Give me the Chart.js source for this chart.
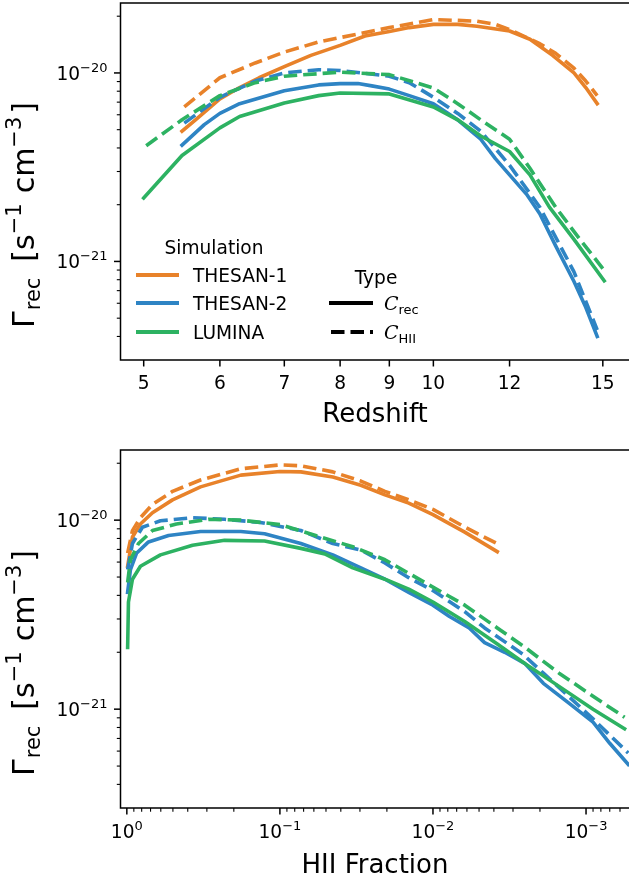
<!DOCTYPE html>
<html><head><meta charset="utf-8">
<script src="https://cdn.jsdelivr.net/npm/chart.js@4.4.0/dist/chart.umd.min.js"></script>
<style>html,body{margin:0;padding:0;background:#fff;overflow:hidden}canvas{display:block}</style>
</head><body>
<canvas id="c1" width="629" height="440"></canvas>
<canvas id="c2" width="629" height="439"></canvas>
<script>
// ---------- data ----------
const simNames = ['THESAN-1', 'THESAN-2', 'LUMINA'];
const simColors = ['#E8822A', '#2E84C4', '#2DB262'];

// Top panel: redshift vs recombination rate
const zT1rec = [5.48, 5.66, 6.0, 6.29, 6.59, 7.0, 7.46, 8.0, 8.49, 9.0, 9.44, 10.0, 10.6, 11.1, 12.0, 12.6, 13.3, 14.0, 14.4, 14.8];
const gT1rec = [4.91e-21, 5.64e-21, 7.29e-21, 8.37e-21, 9.43e-21, 1.08e-20, 1.24e-20, 1.40e-20, 1.57e-20, 1.66e-20, 1.74e-20, 1.81e-20, 1.81e-20, 1.77e-20, 1.67e-20, 1.51e-20, 1.24e-20, 1.0e-20, 8.37e-21, 6.87e-21];
const zT1hii = [5.51, 6.0, 6.53, 7.0, 7.6, 8.0, 9.0, 10.0, 10.6, 11.1, 11.6, 12.0, 12.9, 13.4, 14.0, 14.4, 14.8];
const gT1hii = [6.6e-21, 9.43e-21, 1.13e-20, 1.29e-20, 1.46e-20, 1.54e-20, 1.74e-20, 1.92e-20, 1.90e-20, 1.88e-20, 1.81e-20, 1.70e-20, 1.43e-20, 1.27e-20, 1.06e-20, 9.06e-21, 7.58e-21];
const zT2rec = [5.48, 5.78, 6.0, 6.29, 7.0, 7.6, 8.0, 8.35, 8.63, 9.0, 9.44, 10.0, 10.6, 11.2, 11.6, 12.0, 12.5, 12.9, 13.4, 14.0, 14.4, 14.8];
const gT2rec = [4.14e-21, 5.32e-21, 6.10e-21, 6.87e-21, 8.05e-21, 8.64e-21, 8.78e-21, 8.78e-21, 8.54e-21, 8.21e-21, 7.58e-21, 6.87e-21, 5.64e-21, 4.45e-21, 3.51e-21, 2.88e-21, 2.27e-21, 1.79e-21, 1.21e-21, 7.83e-22, 5.71e-22, 4.0e-22];
const zT2hii = [5.51, 6.0, 6.53, 7.0, 7.6, 8.0, 9.0, 9.44, 10.0, 10.6, 11.2, 12.0, 12.9, 14.0, 14.8];
const gT2hii = [5.42e-21, 7.43e-21, 9.06e-21, 1.0e-20, 1.04e-20, 1.03e-20, 9.61e-21, 8.88e-21, 7.43e-21, 6.10e-21, 4.91e-21, 3.24e-21, 1.94e-21, 8.81e-22, 4.33e-22];
const zLrec = [5.0, 5.48, 6.0, 6.29, 7.0, 7.6, 8.0, 9.0, 10.0, 10.6, 11.2, 12.0, 12.6, 13.2, 14.0, 15.05];
const gLrec = [2.17e-21, 3.65e-21, 5.11e-21, 5.87e-21, 6.93e-21, 7.58e-21, 7.83e-21, 7.74e-21, 6.6e-21, 5.64e-21, 4.63e-21, 3.83e-21, 2.88e-21, 1.94e-21, 1.31e-21, 7.89e-22];
const zLhii = [5.03, 5.48, 6.0, 6.53, 7.0, 8.0, 9.0, 10.0, 10.6, 11.2, 12.0, 12.6, 13.4, 14.2, 15.0];
const gLhii = [4.11e-21, 5.64e-21, 7.58e-21, 8.88e-21, 9.61e-21, 1.01e-20, 9.8e-21, 8.31e-21, 6.87e-21, 5.64e-21, 4.45e-21, 3.12e-21, 1.94e-21, 1.31e-21, 9.17e-22];

// Bottom panel: HII fraction vs recombination rate
const xT1rec = [0.988, 0.919, 0.815, 0.68, 0.503, 0.33, 0.18, 0.1, 0.073, 0.0451, 0.0296, 0.0206, 0.0144, 0.01, 0.0062, 0.0038];
const hT1rec = [5.70e-21, 8.14e-21, 9.54e-21, 1.095e-20, 1.28e-20, 1.50e-20, 1.73e-20, 1.81e-20, 1.80e-20, 1.69e-20, 1.53e-20, 1.36e-20, 1.23e-20, 1.07e-20, 8.64e-21, 6.81e-21];
const xT1hii = [0.988, 0.919, 0.815, 0.68, 0.503, 0.33, 0.18, 0.1, 0.073, 0.0451, 0.0296, 0.0206, 0.0144, 0.01, 0.0062, 0.0038];
const hT1hii = [6.7e-21, 8.8e-21, 1.03e-20, 1.21e-20, 1.42e-20, 1.63e-20, 1.87e-20, 1.96e-20, 1.94e-20, 1.80e-20, 1.61e-20, 1.42e-20, 1.28e-20, 1.14e-20, 9.2e-21, 7.5e-21];
const xT2rec = [0.988, 0.947, 0.865, 0.722, 0.534, 0.33, 0.18, 0.126, 0.073, 0.0451, 0.0296, 0.0206, 0.0144, 0.01, 0.0078, 0.0058, 0.0046, 0.0034, 0.0025, 0.0019, 0.0013, 0.0009, 0.0007, 0.00053];
const hT2rec = [4.15e-21, 5.48e-21, 6.68e-21, 7.67e-21, 8.30e-21, 8.71e-21, 8.71e-21, 8.47e-21, 7.52e-21, 6.55e-21, 5.59e-21, 4.87e-21, 4.15e-21, 3.55e-21, 3.09e-21, 2.69e-21, 2.25e-21, 2.0e-21, 1.74e-21, 1.37e-21, 1.08e-21, 8.54e-22, 6.6e-22, 5.1e-22];
const xT2hii = [0.988, 0.919, 0.791, 0.603, 0.372, 0.23, 0.134, 0.073, 0.0451, 0.0296, 0.0206, 0.0144, 0.01, 0.0062, 0.0046, 0.0026, 0.0019, 0.0013, 0.0009, 0.00053];
const hT2hii = [5.48e-21, 7.52e-21, 9.17e-21, 9.92e-21, 1.03e-20, 1.01e-20, 9.72e-21, 8.81e-21, 7.52e-21, 6.95e-21, 5.93e-21, 4.96e-21, 4.24e-21, 3.28e-21, 2.69e-21, 1.96e-21, 1.55e-21, 1.17e-21, 8.88e-22, 5.86e-22];
const xLrec = [0.988, 0.976, 0.919, 0.815, 0.603, 0.372, 0.23, 0.126, 0.073, 0.0509, 0.0334, 0.0206, 0.0144, 0.01, 0.0062, 0.0038, 0.0025, 0.0015, 0.0009, 0.00056];
const hLrec = [2.12e-21, 3.69e-21, 4.87e-21, 5.70e-21, 6.55e-21, 7.37e-21, 7.82e-21, 7.76e-21, 7.09e-21, 6.63e-21, 5.59e-21, 4.87e-21, 4.32e-21, 3.69e-21, 2.91e-21, 2.21e-21, 1.74e-21, 1.32e-21, 1.0e-21, 7.88e-22];
const xLhii = [0.988, 0.947, 0.839, 0.68, 0.474, 0.292, 0.18, 0.099, 0.0541, 0.0334, 0.0206, 0.0113, 0.0062, 0.0038, 0.0025, 0.0015, 0.0009, 0.00056];
const hLhii = [4.68e-21, 6.17e-21, 7.52e-21, 8.81e-21, 9.54e-21, 1.01e-20, 1.0e-20, 9.46e-21, 8.14e-21, 7.23e-21, 6.17e-21, 4.68e-21, 3.55e-21, 2.69e-21, 2.12e-21, 1.55e-21, 1.17e-21, 9.06e-22];

// axis ticks
const zTicks = [5, 6, 7, 8, 9, 10, 12, 15];
const xFracMajor = [1, 0.1, 0.01, 0.001];
const xFracLabels = ['0', '\u22121', '\u22122', '\u22123'];
const yMajor = [1e-21, 1e-20];
const yLabels = ['\u221221', '\u221220'];

// ---------- helpers ----------
const FONT = 'DejaVu Sans';
const pts = (xs, ys) => xs.map((x, i) => ({x: x, y: ys[i]}));
function mkDs(data, color, dashed, idx) {
  return {data: data, borderColor: color, backgroundColor: color, borderWidth: 3.6,
    borderDash: dashed ? [13.5, 6] : [], pointRadius: 0, fill: false, tension: 0,
    borderCapStyle: dashed ? 'butt' : 'square', borderJoinStyle: 'round', order: 100 - idx};
}
function fnt(p) { return (p.style || '') + ' ' + p.size + 'px ' + (p.family || FONT); }
function richW(ctx, parts) { let w = 0; for (const p of parts) { ctx.font = fnt(p); w += ctx.measureText(p.t).width + (p.gap || 0); } return w; }
function drawRich(ctx, parts, x, y, align) {
  const w = richW(ctx, parts);
  let cx = align === 'center' ? x - w / 2 : align === 'right' ? x - w : x;
  ctx.textAlign = 'left'; ctx.textBaseline = 'alphabetic';
  for (const p of parts) { ctx.font = fnt(p); ctx.fillText(p.t, cx, y + (p.dy || 0)); cx += ctx.measureText(p.t).width + (p.gap || 0); }
}
function minorLog(min, max) {
  const out = [];
  for (let e = -25; e <= 2; e++) for (let k = 2; k <= 9; k++) { const v = k * Math.pow(10, e); if (v >= min && v <= max) out.push(v); }
  return out;
}
const YMIN = 3.4e-22, YMAX = 2.35e-20;

function decorate(chart, cfg) {
  const ctx = chart.ctx, a = chart.chartArea, xs = chart.scales.x, ys = chart.scales.y;
  ctx.save();
  ctx.strokeStyle = '#000'; ctx.fillStyle = '#000';
  // spines
  ctx.lineWidth = 1.5;
  ctx.beginPath();
  ctx.moveTo(a.right + 5, a.top); ctx.lineTo(a.left, a.top); ctx.lineTo(a.left, a.bottom); ctx.lineTo(a.right + 5, a.bottom);
  ctx.stroke();
  // y ticks
  ctx.lineWidth = 1.5;
  for (const v of yMajor) { const p = ys.getPixelForValue(v); ctx.beginPath(); ctx.moveTo(a.left, p); ctx.lineTo(a.left - 6.5, p); ctx.stroke(); }
  ctx.lineWidth = 1.1;
  for (const v of minorLog(YMIN, YMAX)) { const p = ys.getPixelForValue(v); ctx.beginPath(); ctx.moveTo(a.left, p); ctx.lineTo(a.left - 3.7, p); ctx.stroke(); }
  yMajor.forEach((v, i) => {
    const p = ys.getPixelForValue(v);
    drawRich(ctx, [{t: '10', size: 18.6}, {t: yLabels[i], size: 13, dy: -8}], a.left - 13, p + 7, 'right');
  });
  // x ticks
  ctx.lineWidth = 1.5;
  for (const v of cfg.xMajor) { const p = xs.getPixelForValue(v); ctx.beginPath(); ctx.moveTo(p, a.bottom); ctx.lineTo(p, a.bottom + 6.5); ctx.stroke(); }
  ctx.lineWidth = 1.1;
  for (const v of (cfg.xMinor || [])) { const p = xs.getPixelForValue(v); ctx.beginPath(); ctx.moveTo(p, a.bottom); ctx.lineTo(p, a.bottom + 3.7); ctx.stroke(); }
  cfg.xMajor.forEach((v, i) => {
    const p = xs.getPixelForValue(v);
    drawRich(ctx, cfg.xLabel(i), p, cfg.xLabelY, 'center');
  });
  // axis titles
  drawRich(ctx, [{t: cfg.xTitle, size: 26}], 375, cfg.xTitleY, 'center');
  ctx.save();
  ctx.translate(cfg.yTitleX, cfg.yTitleCY); ctx.rotate(-Math.PI / 2);
  drawRich(ctx, [{t: '\u0393', size: 30, gap: 1}, {t: 'rec', size: 21, dy: 6, gap: 16}, {t: '[s', size: 30}, {t: '\u22121', size: 21, dy: -13, gap: 10}, {t: 'cm', size: 30}, {t: '\u22123', size: 21, dy: -13, gap: 3}, {t: ']', size: 30}], 0, 0, 'center');
  ctx.restore();
  if (cfg.legend) drawLegend(ctx);
  ctx.restore();
}
function drawLegend(ctx) {
  ctx.fillStyle = '#000';
  drawRich(ctx, [{t: 'Simulation', size: 18.6}], 214, 254, 'center');
  const ys = [275, 303, 332];
  simNames.forEach((n, i) => {
    ctx.strokeStyle = simColors[i]; ctx.lineWidth = 3.8; ctx.setLineDash([]); ctx.lineCap = 'butt';
    ctx.beginPath(); ctx.moveTo(136, ys[i]); ctx.lineTo(179, ys[i]); ctx.stroke();
    ctx.fillStyle = '#000';
    drawRich(ctx, [{t: n, size: 18.6}], 193, ys[i] + 7, 'left');
  });
  drawRich(ctx, [{t: 'Type', size: 18.6}], 376, 284, 'center');
  ctx.strokeStyle = '#000'; ctx.lineWidth = 3.8;
  ctx.beginPath(); ctx.moveTo(329, 303); ctx.lineTo(373, 303); ctx.stroke();
  ctx.setLineDash([13.5, 6]);
  ctx.beginPath(); ctx.moveTo(331, 332); ctx.lineTo(373, 332); ctx.stroke();
  ctx.setLineDash([]);
  drawRich(ctx, [{t: 'C', size: 19, style: 'italic', family: 'DejaVu Serif'}, {t: 'rec', size: 13, dy: 4}], 384, 310, 'left');
  drawRich(ctx, [{t: 'C', size: 19, style: 'italic', family: 'DejaVu Serif'}, {t: 'HII', size: 13, dy: 4}], 384, 339, 'left');
}
function baseOpts(xOpts, xH, padTop, cfg) {
  return {
    responsive: false, animation: false, devicePixelRatio: 1, events: [],
    layout: {padding: {top: padTop, left: 0, right: 0, bottom: 0}},
    plugins: {legend: {display: false}, tooltip: {enabled: false}, title: {display: false}},
    scales: {
      x: Object.assign({type: 'logarithmic', ticks: {display: false}, grid: {display: false}, border: {display: false},
        afterFit: s => { s.height = xH; }}, xOpts),
      y: {type: 'logarithmic', min: YMIN, max: YMAX, ticks: {display: false}, grid: {display: false}, border: {display: false},
        afterFit: s => { s.width = 120.5; }}
    }
  };
}

// ---------- top chart ----------
const topSets = [
  [pts(zT1rec, gT1rec), 0, false], [pts(zT1hii, gT1hii), 0, true],
  [pts(zT2rec, gT2rec), 1, false], [pts(zT2hii, gT2hii), 1, true],
  [pts(zLrec, gLrec), 2, false], [pts(zLhii, gLhii), 2, true]
];
const topCfg = {xMajor: zTicks, xLabel: i => [{t: String(zTicks[i]), size: 18.6}], xLabelY: 389,
  xTitle: 'Redshift', xTitleY: 422, yTitleX: 34, yTitleCY: 215, legend: true};
new Chart(document.getElementById('c1'), {
  type: 'line',
  data: {datasets: topSets.map((d, i) => mkDs(d[0], simColors[d[1]], d[2], i))},
  options: baseOpts({min: 4.73, max: 15.97}, 80, 3, topCfg),
  plugins: [{id: 'deco1', afterDraw: c => decorate(c, topCfg)}]
});

// ---------- bottom chart ----------
const botSets = [
  [pts(xT1rec, hT1rec), 0, false], [pts(xT1hii, hT1hii), 0, true],
  [pts(xT2rec, hT2rec), 1, false], [pts(xT2hii, hT2hii), 1, true],
  [pts(xLrec, hLrec), 2, false], [pts(xLhii, hLhii), 2, true]
];
const XFMIN = 5.24e-4, XFMAX = 1.10;
const botCfg = {xMajor: xFracMajor, xMinor: minorLog(XFMIN, XFMAX),
  xLabel: i => [{t: '10', size: 18.6}, {t: xFracLabels[i], size: 13, dy: -8}], xLabelY: 398,
  xTitle: 'HII Fraction', xTitleY: 433, yTitleX: 34, yTitleCY: 223, legend: false};
new Chart(document.getElementById('c2'), {
  type: 'line',
  data: {datasets: botSets.map((d, i) => mkDs(d[0], simColors[d[1]], d[2], i))},
  options: baseOpts({min: XFMIN, max: XFMAX, reverse: true}, 71, 10, botCfg),
  plugins: [{id: 'deco2', afterDraw: c => decorate(c, botCfg)}]
});
</script>
</body></html>
